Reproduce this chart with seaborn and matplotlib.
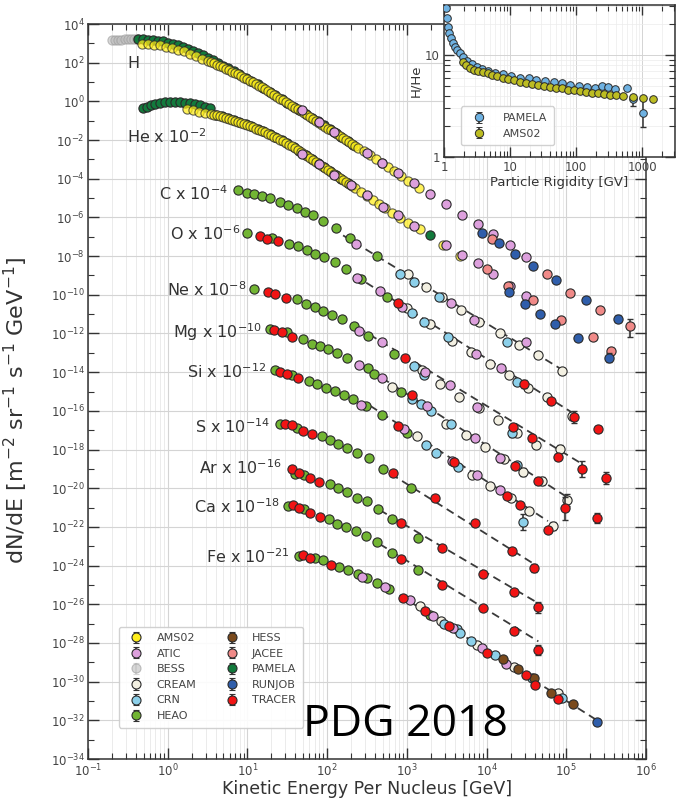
import numpy as np
import pandas as pd
import matplotlib
matplotlib.use("Agg")
import matplotlib.pyplot as plt
import seaborn as sns
from matplotlib.ticker import FixedLocator, LogLocator, NullFormatter, LogFormatterMathtext, FuncFormatter

# ------------------------------------------------------------------ data
experiments = ["AMS02", "ATIC", "BESS", "CREAM", "CRN", "HEAO",
               "HESS", "JACEE", "PAMELA", "RUNJOB", "TRACER"]
exp_codes = {"A": "AMS02", "T": "ATIC", "B": "BESS", "C": "CREAM", "N": "CRN",
             "H": "HEAO", "S": "HESS", "J": "JACEE", "P": "PAMELA",
             "R": "RUNJOB", "X": "TRACER"}
exp_colors = {"AMS02": "#FFEE1A", "ATIC": "#DDA0DD", "BESS": "#BDBDBD",
              "CREAM": "#F3F0E2", "CRN": "#8CD0EA", "HEAO": "#72B533",
              "HESS": "#7A4A1C", "JACEE": "#F08A88", "PAMELA": "#127A3C",
              "RUNJOB": "#2F5EAB", "TRACER": "#F21414"}

# values are log10(E/GeV) and log10(scaled flux)
H_bess_logE = [-0.70, -0.66, -0.62, -0.58, -0.54, -0.50, -0.46, -0.42, -0.38]
H_bess_logF = [3.17, 3.18, 3.19, 3.19, 3.20, 3.20, 3.20, 3.20, 3.20]

H_pamela_logE = [-0.37, -0.31, -0.25, -0.18, -0.12, -0.06, 0.00, 0.07, 0.13, 0.19,
                 0.25, 0.32, 0.38, 0.44, 0.51, 0.57, 0.63, 0.69, 0.76, 0.83,
                 0.90, 0.98, 1.05, 1.13, 1.20, 1.28, 1.35, 1.43, 1.50, 1.58,
                 1.65, 1.73, 1.81, 1.88, 1.96, 2.03, 2.11, 2.18, 2.26, 2.33]
H_pamela_logF = [3.22, 3.21, 3.19, 3.17, 3.14, 3.10, 3.04, 2.97, 2.89, 2.80,
                 2.71, 2.60, 2.50, 2.38, 2.26, 2.13, 1.99, 1.85, 1.72, 1.57,
                 1.42, 1.23, 1.06, 0.88, 0.71, 0.51, 0.32, 0.12, -0.07, -0.27,
                 -0.43, -0.64, -0.84, -1.03, -1.24, -1.43, -1.63, -1.83, -2.04, -2.24]

H_ams_logE = [-0.32, -0.25, -0.17, -0.10, -0.02, 0.05, 0.13, 0.20, 0.28, 0.36,
              0.43, 0.51, 0.545, 0.58, 0.62, 0.66, 0.695, 0.73, 0.77, 0.81,
              0.845, 0.88, 0.92, 0.96, 0.995, 1.03, 1.07, 1.11, 1.145, 1.18,
              1.22, 1.26, 1.295, 1.33, 1.37, 1.41, 1.445, 1.48, 1.52, 1.56,
              1.595, 1.63, 1.67, 1.71, 1.75, 1.79, 1.825, 1.86, 1.90, 1.94,
              1.975, 2.01, 2.05, 2.09, 2.125, 2.16, 2.20, 2.24, 2.275, 2.31,
              2.35, 2.39, 2.46, 2.54, 2.61, 2.69, 2.76, 2.84, 2.93, 3.02, 3.15]
H_ams_logF = [2.96, 2.95, 2.92, 2.89, 2.83, 2.76, 2.68, 2.58, 2.47, 2.34,
              2.21, 2.08, 2.03, 1.98, 1.90, 1.82, 1.76, 1.69, 1.62, 1.54,
              1.48, 1.41, 1.32, 1.23, 1.15, 1.07, 0.98, 0.89, 0.82, 0.74,
              0.64, 0.53, 0.44, 0.35, 0.25, 0.14, 0.05, -0.04, -0.15, -0.25,
              -0.33, -0.40, -0.51, -0.61, -0.72, -0.82, -0.91, -1.00, -1.11, -1.21,
              -1.31, -1.41, -1.50, -1.60, -1.70, -1.80, -1.91, -2.01, -2.12, -2.22,
              -2.31, -2.40, -2.58, -2.79, -2.99, -3.20, -3.41, -3.62, -3.88, -4.11, -4.50]

He_pamela_logE = [-0.31, -0.26, -0.21, -0.16, -0.10, -0.03, 0.03, 0.09, 0.15, 0.22,
                  0.28, 0.34, 0.41, 0.47, 0.53, 0.60, 0.68, 0.75, 0.83, 0.90,
                  0.98, 1.05, 1.13, 1.20, 1.28, 1.35, 1.43, 1.50, 1.58, 1.65,
                  1.73, 1.81, 1.88, 1.96, 2.03, 2.11, 2.18, 2.26]
He_pamela_logF = [-0.35, -0.27, -0.20, -0.13, -0.07, -0.03, -0.02, -0.02, -0.03, -0.06,
                  -0.09, -0.15, -0.20, -0.27, -0.35, -0.69, -0.78, -0.86, -0.96, -1.05,
                  -1.16, -1.29, -1.42, -1.55, -1.69, -1.85, -2.00, -2.17, -2.35, -2.56,
                  -2.77, -2.98, -3.18, -3.39, -3.60, -3.81, -4.01, -4.22]

He_ams_logE = [0.24, 0.32, 0.39, 0.47, 0.54, 0.58, 0.62, 0.655, 0.69, 0.73,
               0.77, 0.805, 0.84, 0.88, 0.92, 0.96, 1.00, 1.035, 1.07, 1.11,
               1.15, 1.185, 1.22, 1.26, 1.30, 1.335, 1.37, 1.41, 1.45, 1.485,
               1.52, 1.56, 1.60, 1.635, 1.67, 1.71, 1.75, 1.785, 1.82, 1.86,
               1.90, 1.935, 1.97, 2.01, 2.05, 2.085, 2.12, 2.16, 2.20, 2.24,
               2.28, 2.315, 2.35, 2.43, 2.50, 2.58, 2.65, 2.73, 2.81, 2.92,
               3.02, 3.17, 3.45, 3.67]
He_ams_logF = [-0.40, -0.47, -0.53, -0.60, -0.66, -0.695, -0.73, -0.77, -0.81, -0.855,
               -0.90, -0.95, -1.00, -1.05, -1.10, -1.155, -1.21, -1.275, -1.34, -1.405,
               -1.47, -1.535, -1.60, -1.675, -1.75, -1.83, -1.91, -1.985, -2.06, -2.15,
               -2.24, -2.33, -2.42, -2.525, -2.63, -2.735, -2.84, -2.945, -3.05, -3.15,
               -3.25, -3.355, -3.46, -3.565, -3.67, -3.775, -3.88, -3.98, -4.08, -4.185,
               -4.29, -4.395, -4.50, -4.70, -4.91, -5.12, -5.33, -5.53, -5.77, -6.03,
               -6.29, -6.62, -7.40, -7.97]

# (experiment code, logE, logF[, err_lo_dex, err_hi_dex])
H_pts = [("T", 1.69, -0.46), ("T", 1.90, -1.08), ("T", 2.09, -1.60), ("T", 2.50, -2.68),
         ("T", 2.69, -3.20), ("T", 2.89, -3.72), ("T", 3.09, -4.24), ("T", 3.29, -4.81),
         ("T", 3.49, -5.33), ("T", 3.69, -5.85), ("T", 3.89, -6.36), ("T", 4.08, -6.88),
         ("T", 4.30, -7.40), ("T", 4.50, -8.07),
         ("R", 3.94, -6.78), ("R", 4.16, -7.30), ("R", 4.36, -7.87), ("R", 4.58, -8.49),
         ("R", 4.87, -9.26), ("R", 5.25, -10.25), ("R", 5.65, -11.23, 0.2, 0.2),
         ("J", 4.07, -7.09), ("J", 4.76, -8.90), ("J", 5.05, -9.89), ("J", 5.42, -10.77),
         ("J", 5.80, -11.60, 0.6, 0.35)]

He_pts = [("T", 1.69, -2.74), ("T", 1.90, -3.25), ("T", 2.09, -3.82), ("T", 2.30, -4.34),
          ("T", 2.50, -4.86), ("T", 2.70, -5.48), ("T", 2.89, -5.90), ("T", 3.09, -6.42),
          ("T", 3.49, -7.40), ("T", 3.69, -7.92), ("T", 3.89, -8.38), ("T", 4.08, -8.90),
          ("T", 4.30, -9.52), ("T", 4.50, -10.04),
          ("P", 3.29, -6.93),
          ("J", 4.01, -8.69), ("J", 4.27, -9.52), ("J", 4.58, -10.25), ("J", 4.93, -11.29),
          ("J", 5.34, -12.17), ("J", 5.56, -12.89, 0.15, 0.15),
          ("R", 4.28, -9.83), ("R", 4.48, -10.46), ("R", 4.67, -10.97), ("R", 4.86, -11.49),
          ("R", 5.15, -12.22), ("R", 5.54, -13.25, 0.25, 0.25)]

C_pts = [("H", 0.88, -4.60), ("H", 1.00, -4.76), ("H", 1.08, -4.81), ("H", 1.18, -4.91),
         ("H", 1.28, -5.02), ("H", 1.41, -5.22), ("H", 1.51, -5.38), ("H", 1.62, -5.53),
         ("H", 1.72, -5.74), ("H", 1.82, -5.90), ("H", 1.95, -6.21), ("H", 2.11, -6.57),
         ("H", 2.29, -7.04), ("T", 2.36, -7.35), ("H", 2.63, -7.97),
         ("N", 2.91, -8.90), ("C", 3.02, -8.90), ("N", 3.09, -9.32, 0.15, 0.15),
         ("C", 3.24, -9.58), ("N", 3.40, -10.09), ("C", 3.44, -10.09), ("T", 3.56, -10.40),
         ("C", 3.68, -10.77), ("T", 3.84, -11.28), ("C", 3.91, -11.39), ("C", 4.17, -11.96),
         ("N", 4.26, -12.42), ("C", 4.41, -12.58), ("T", 4.50, -12.42), ("C", 4.65, -13.10),
         ("C", 4.95, -13.93, 0.1, 0.1)]

O_pts = [("H", 1.00, -6.78), ("X", 1.16, -6.98), ("X", 1.25, -7.09), ("H", 1.31, -7.04),
         ("X", 1.38, -7.24), ("H", 1.52, -7.35), ("H", 1.63, -7.50), ("H", 1.75, -7.71),
         ("H", 1.85, -7.87), ("H", 1.96, -8.07), ("H", 2.10, -8.33), ("H", 2.24, -8.69),
         ("T", 2.38, -9.11), ("H", 2.43, -9.16), ("T", 2.66, -9.78), ("H", 2.75, -10.09),
         ("X", 2.89, -10.40), ("T", 2.94, -10.61), ("C", 3.00, -10.66),
         ("N", 3.07, -10.92, 0.15, 0.15), ("N", 3.22, -11.39), ("C", 3.29, -11.49),
         ("N", 3.52, -12.17), ("C", 3.57, -12.37), ("C", 3.81, -12.94), ("T", 3.87, -13.05),
         ("C", 4.04, -13.57), ("T", 4.18, -13.77), ("C", 4.28, -14.13), ("N", 4.38, -14.50),
         ("X", 4.47, -14.60, 0.2, 0.2), ("C", 4.52, -14.81), ("C", 4.76, -15.27),
         ("X", 4.81, -15.48), ("C", 5.07, -16.26, 0.2, 0.2), ("X", 5.10, -16.31, 0.3, 0.3),
         ("X", 5.40, -16.93, 0.15, 0.15)]

Ne_pts = [("H", 1.08, -9.68), ("X", 1.26, -9.83), ("X", 1.35, -9.94), ("X", 1.48, -10.15),
          ("H", 1.62, -10.20), ("H", 1.74, -10.46), ("H", 1.85, -10.61), ("H", 1.95, -10.82),
          ("H", 2.06, -11.03), ("H", 2.19, -11.23), ("H", 2.34, -11.60), ("T", 2.40, -11.86),
          ("H", 2.51, -12.11), ("T", 2.69, -12.42), ("H", 2.84, -13.05), ("X", 2.98, -13.25),
          ("N", 3.09, -13.67), ("C", 3.19, -13.88), ("T", 3.23, -13.98), ("N", 3.22, -14.13),
          ("C", 3.42, -14.60), ("T", 3.54, -14.65), ("C", 3.66, -15.27), ("T", 3.88, -15.79),
          ("C", 3.91, -15.84), ("C", 4.14, -16.47), ("X", 4.33, -16.83, 0.1, 0.1),
          ("N", 4.32, -17.14, 0.2, 0.2), ("C", 4.38, -17.14), ("X", 4.57, -17.40),
          ("C", 4.62, -17.76, 0.15, 0.15), ("C", 4.92, -17.97, 0.2, 0.2),
          ("X", 4.90, -18.38, 0.15, 0.15), ("X", 5.20, -19.00, 0.4, 0.4),
          ("X", 5.50, -19.47, 0.3, 0.3)]

Mg_pts = [("H", 1.28, -11.75), ("X", 1.33, -11.80), ("X", 1.43, -11.91), ("H", 1.50, -11.91),
          ("X", 1.56, -12.17), ("H", 1.70, -12.27), ("H", 1.81, -12.53), ("H", 1.91, -12.63),
          ("H", 2.01, -12.79), ("H", 2.12, -13.00), ("H", 2.25, -13.25), ("T", 2.40, -13.62),
          ("H", 2.51, -13.77), ("H", 2.59, -14.08), ("T", 2.69, -14.29), ("C", 2.81, -14.76),
          ("H", 2.93, -15.02), ("X", 3.07, -15.17), ("N", 3.07, -15.38), ("N", 3.18, -15.64),
          ("T", 3.25, -15.74), ("N", 3.30, -16.00), ("C", 3.49, -16.67), ("N", 3.55, -16.67),
          ("C", 3.74, -17.24), ("T", 3.86, -17.40), ("C", 3.98, -17.86),
          ("T", 4.17, -18.43, 0.2, 0.2), ("C", 4.22, -18.49), ("X", 4.36, -18.85),
          ("N", 4.38, -18.80), ("C", 4.46, -19.16, 0.2, 0.2), ("X", 4.65, -19.63),
          ("C", 4.70, -19.63, 0.2, 0.2), ("C", 5.01, -20.61, 0.3, 0.3),
          ("X", 4.98, -21.03, 0.6, 0.6), ("X", 5.39, -21.54, 0.25, 0.25)]

Si_pts = [("H", 1.35, -13.88), ("X", 1.41, -13.98), ("X", 1.50, -14.08), ("H", 1.56, -14.14),
          ("X", 1.63, -14.29), ("H", 1.77, -14.45), ("H", 1.87, -14.60), ("H", 1.99, -14.81),
          ("H", 2.10, -14.96), ("H", 2.21, -15.17), ("H", 2.33, -15.38), ("T", 2.43, -15.69),
          ("H", 2.49, -15.74), ("H", 2.69, -16.21), ("X", 2.89, -16.78), ("T", 2.96, -16.93),
          ("H", 3.00, -17.14), ("C", 3.13, -17.30), ("N", 3.24, -17.76), ("N", 3.37, -18.18),
          ("T", 3.57, -18.59), ("X", 3.59, -18.64), ("N", 3.64, -18.90), ("C", 3.82, -19.32),
          ("T", 3.88, -19.32), ("C", 4.04, -19.89), ("T", 4.17, -20.09), ("X", 4.26, -20.40),
          ("C", 4.31, -20.51), ("X", 4.42, -20.87), ("C", 4.53, -21.18, 0.15, 0.15),
          ("N", 4.46, -21.75, 0.4, 0.4), ("X", 4.77, -22.17), ("C", 4.83, -21.96, 0.2, 0.2)]

S_pts = [("H", 1.41, -16.67), ("X", 1.47, -16.67), ("X", 1.56, -16.73), ("H", 1.62, -16.88),
         ("X", 1.70, -17.04), ("X", 1.81, -17.19), ("H", 1.94, -17.30), ("H", 2.04, -17.50),
         ("H", 2.14, -17.71), ("H", 2.25, -17.92), ("H", 2.38, -18.18), ("H", 2.53, -18.44),
         ("H", 2.70, -19.00), ("X", 2.83, -19.21), ("H", 3.05, -19.99), ("X", 3.35, -20.51),
         ("X", 3.86, -21.80), ("X", 4.32, -23.25, 0.15, 0.15), ("X", 4.60, -24.14, 0.2, 0.2)]

Ar_pts = [("X", 1.56, -19.00), ("H", 1.60, -19.26), ("X", 1.65, -19.21), ("H", 1.71, -19.32),
          ("X", 1.79, -19.47), ("X", 1.90, -19.68), ("H", 2.04, -19.78), ("H", 2.14, -19.99),
          ("H", 2.25, -20.20), ("H", 2.38, -20.51), ("H", 2.50, -20.66), ("H", 2.64, -21.08),
          ("H", 2.81, -21.60), ("X", 2.93, -21.80), ("H", 3.14, -22.58), ("X", 3.44, -23.10),
          ("X", 3.96, -24.45), ("X", 4.35, -25.38, 0.15, 0.15), ("X", 4.65, -26.16, 0.3, 0.3)]

Ca_pts = [("H", 1.51, -20.92), ("X", 1.57, -20.87), ("X", 1.65, -21.03), ("H", 1.71, -21.08),
          ("X", 1.79, -21.28), ("X", 1.91, -21.49), ("H", 2.02, -21.60), ("H", 2.12, -21.86),
          ("H", 2.24, -22.01), ("H", 2.36, -22.22), ("H", 2.49, -22.48), ("H", 2.63, -22.79),
          ("H", 2.81, -23.36), ("X", 2.93, -23.67), ("H", 3.14, -24.24), ("X", 3.44, -25.02),
          ("X", 3.96, -26.21), ("X", 4.35, -27.40, 0.15, 0.15), ("X", 4.65, -28.38, 0.25, 0.25)]

Fe_pts = [("H", 1.65, -23.51), ("X", 1.70, -23.46), ("X", 1.79, -23.62), ("H", 1.85, -23.62),
          ("H", 1.95, -23.72), ("X", 2.05, -23.98), ("H", 2.15, -24.08), ("H", 2.26, -24.24),
          ("H", 2.39, -24.45), ("T", 2.44, -24.60), ("H", 2.50, -24.65), ("H", 2.63, -24.91),
          ("T", 2.73, -25.12), ("H", 2.78, -25.22), ("X", 2.95, -25.69), ("T", 3.04, -25.79),
          ("C", 3.17, -26.10), ("X", 3.23, -26.36), ("H", 3.29, -26.57), ("T", 3.33, -26.62),
          ("C", 3.43, -26.88), ("N", 3.47, -27.04), ("X", 3.53, -27.14), ("T", 3.58, -27.24),
          ("N", 3.63, -27.30), ("N", 3.67, -27.50), ("N", 3.81, -27.92), ("C", 3.88, -28.12),
          ("T", 3.94, -28.28), ("X", 4.01, -28.54), ("N", 4.11, -28.64), ("S", 4.21, -28.85),
          ("T", 4.24, -29.11), ("C", 4.35, -29.26), ("S", 4.40, -29.37), ("X", 4.50, -29.68),
          ("N", 4.57, -29.83), ("S", 4.60, -29.83, 0.1, 0.1), ("X", 4.61, -30.15),
          ("S", 4.81, -30.61), ("C", 4.90, -30.61, 0.1, 0.1), ("N", 4.95, -30.87),
          ("X", 4.90, -30.92, 0.1, 0.1), ("S", 5.09, -31.18), ("R", 5.39, -32.11, 0.15, 0.15)]

# power-law fits (dashed): [(logE_start, logF_start), (logE_end, logF_end)]
fit_C = [(2.20, -6.93), (4.95, -13.88)]
fit_O = [(2.35, -9.01), (5.10, -16.16)]
fit_Ne = [(2.39, -11.70), (5.20, -18.75)]
fit_Mg = [(2.41, -13.56), (5.01, -20.46)]
fit_Si = [(2.54, -15.74), (4.77, -21.70)]
fit_S = [(2.66, -18.90), (4.60, -23.93)]
fit_Ar = [(2.66, -21.13), (4.65, -25.95)]
fit_Ca = [(2.66, -22.89), (4.65, -27.92)]
fit_Fe = [(2.91, -25.53), (5.39, -32.01)]

# inset: H/He ratio vs rigidity
pam_R = [1.07, 1.10, 1.14, 1.19, 1.26, 1.35, 1.47, 1.58, 1.74, 1.95, 2.24, 2.63, 3.16, 3.72,
         4.68, 5.89, 7.94, 10.5, 14.1, 19.1, 25.1, 33.9, 45.7, 60.3, 81.3, 110, 145, 195,
         245, 309, 389, 589, 741, 1047]
pam_ratio = [28.7, 22.9, 18.9, 16.3, 14.6, 13.2, 12.1, 11.2, 10.4, 9.5, 8.7, 8.2, 7.7, 7.3,
             7.0, 6.7, 6.5, 6.2, 6.0, 5.9, 5.7, 5.6, 5.4, 5.3, 5.1, 5.0, 4.9, 4.8,
             5.0, 4.9, 4.6, 4.7, 3.7, 2.7]
pam_err_lo = [0] * 32 + [0.5, 0.75]
pam_err_hi = [0] * 32 + [0.4, 0.9]
ams_R = [1.91, 2.14, 2.45, 2.82, 3.31, 3.89, 4.57, 5.37, 6.46, 7.76, 9.33, 11.5, 14.1, 17.4,
         21.4, 26.3, 33.1, 40.7, 50.1, 61.7, 75.9, 93.3, 115, 141, 174, 214, 263, 331,
         407, 513, 724, 1023, 1479]
ams_ratio = [8.6, 8.0, 7.5, 7.2, 7.0, 6.8, 6.6, 6.4, 6.2, 6.0, 5.8, 5.65, 5.5, 5.35, 5.25,
             5.1, 5.0, 4.9, 4.8, 4.7, 4.57, 4.5, 4.44, 4.34, 4.27, 4.2, 4.15, 4.08, 4.02,
             3.96, 3.85, 3.76, 3.7]

# ------------------------------------------------------------------ assemble
rows = []


def add(element, code, le, lf, lo=0.0, hi=0.0):
    rows.append(dict(element=element, exp=exp_codes[code], E=10.0 ** le, F=10.0 ** lf,
                     lo=lo, hi=hi))


for le, lf in zip(H_bess_logE, H_bess_logF):
    add("H", "B", le, lf)
for le, lf in zip(H_ams_logE, H_ams_logF):
    add("H", "A", le, lf)
for le, lf in zip(H_pamela_logE, H_pamela_logF):
    add("H", "P", le, lf)
for le, lf in zip(He_ams_logE, He_ams_logF):
    add("He", "A", le, lf)
for le, lf in zip(He_pamela_logE, He_pamela_logF):
    add("He", "P", le, lf)
for el, pts in [("H", H_pts), ("He", He_pts), ("C", C_pts), ("O", O_pts), ("Ne", Ne_pts),
                ("Mg", Mg_pts), ("Si", Si_pts), ("S", S_pts), ("Ar", Ar_pts),
                ("Ca", Ca_pts), ("Fe", Fe_pts)]:
    for p in pts:
        add(el, *p)
df = pd.DataFrame(rows)

# ------------------------------------------------------------------ style
sns.set_theme(style="ticks")
plt.rcParams["font.family"] = ["DejaVu Sans"]
plt.rcParams["axes.edgecolor"] = "#333333"
plt.rcParams["axes.linewidth"] = 1.1
TXT = "#333333"

fig = plt.figure(figsize=(6.79, 8.01), dpi=100)
ax = fig.add_axes([88 / 679, 1 - 759 / 801, 558 / 679, 735 / 801])
ax.set_xscale("log")
ax.set_yscale("log")
ax.set_xlim(1e-1, 1e6)
ax.set_ylim(1e-34, 1e4)

ax.grid(which="major", color="#d4d4d4", lw=0.8, zorder=0)
ax.grid(which="minor", axis="x", color="#e8e8e8", lw=0.6, zorder=0)
ax.set_axisbelow(True)

edge = "#2a2a2a"
draw_order = ["BESS", "PAMELA", "AMS02", "HEAO", "CREAM", "CRN", "ATIC", "HESS",
              "JACEE", "RUNJOB", "TRACER"]
for i, e in enumerate(draw_order):
    sub = df[df.exp == e]
    if sub.empty:
        continue
    errs = sub[(sub.lo > 0) | (sub.hi > 0)]
    if not errs.empty:
        ax.errorbar(errs.E, errs.F,
                    yerr=[errs.F - errs.F * 10 ** (-errs.lo), errs.F * 10 ** errs.hi - errs.F],
                    fmt="none", ecolor="#333333", elinewidth=1.2, capsize=2.5, capthick=1.0,
                    zorder=3 + i * 0.1)
    alpha = {"BESS": 0.6, "AMS02": 0.72}.get(e, 1.0)
    sns.scatterplot(data=sub, x="E", y="F", ax=ax, color=exp_colors[e], s=44,
                    edgecolor=("#9a9a9a" if e == "BESS" else edge),
                    linewidth=0.8, alpha=alpha,
                    zorder=3.05 + i * 0.1, legend=False)

for fit in [fit_C, fit_O, fit_Ne, fit_Mg, fit_Si, fit_S, fit_Ar, fit_Ca, fit_Fe]:
    xs = [10 ** fit[0][0], 10 ** fit[1][0]]
    ys = [10 ** fit[0][1], 10 ** fit[1][1]]
    ax.plot(xs, ys, ls=(0, (4.5, 2.8)), color="#3a3a3a", lw=1.3, zorder=2.5)

# element labels
labels = [("H", 10 ** -0.511, 10 ** 2.03, "left"),
          ("He x 10$^{-2}$", 10 ** -0.511, 10 ** -1.75, "left"),
          ("C x 10$^{-4}$", 10 ** 0.757, 10 ** -4.70, "right"),
          ("O x 10$^{-6}$", 10 ** 0.907, 10 ** -6.78, "right"),
          ("Ne x 10$^{-8}$", 10 ** 0.995, 10 ** -9.68, "right"),
          ("Mg x 10$^{-10}$", 10 ** 1.183, 10 ** -11.80, "right"),
          ("Si x 10$^{-12}$", 10 ** 1.233, 10 ** -13.88, "right"),
          ("S x 10$^{-14}$", 10 ** 1.284, 10 ** -16.73, "right"),
          ("Ar x 10$^{-16}$", 10 ** 1.422, 10 ** -18.85, "right"),
          ("Ca x 10$^{-18}$", 10 ** 1.409, 10 ** -20.87, "right"),
          ("Fe x 10$^{-21}$", 10 ** 1.535, 10 ** -23.46, "right")]
for t, x, y, ha in labels:
    ax.text(x, y, t, ha=ha, va="center_baseline", fontsize=11.5, color=TXT, zorder=5)

# ticks
ax.yaxis.set_major_locator(FixedLocator([10.0 ** k for k in range(-34, 5, 2)]))
ax.yaxis.set_minor_locator(FixedLocator([10.0 ** k for k in range(-33, 4, 2)]))
ax.yaxis.set_major_formatter(LogFormatterMathtext())
ax.yaxis.set_minor_formatter(NullFormatter())
ax.xaxis.set_major_locator(LogLocator(base=10, numticks=20))
ax.xaxis.set_minor_locator(LogLocator(base=10, subs=np.arange(2, 10), numticks=200))
ax.xaxis.set_minor_formatter(NullFormatter())
ax.tick_params(which="major", direction="in", length=8, width=1.0, color="#333333",
               labelsize=8.5, labelcolor="#444444", top=True, right=True, pad=2.5)
ax.tick_params(which="minor", direction="in", length=4.5, width=0.8, color="#333333",
               top=True, right=True)
ax.set_xlabel("Kinetic Energy Per Nucleus [GeV]", fontsize=12.5, color=TXT, labelpad=0.5)
ax.set_ylabel("dN/dE [m$^{-2}$ sr$^{-1}$ s$^{-1}$ GeV$^{-1}$]", fontsize=16, color=TXT)
ax.yaxis.set_label_coords(-0.104, 0.474)

# legend with errorbar-style handles
handles = []
for e in experiments:
    h = ax.errorbar([np.nan], [np.nan], yerr=[1.0], fmt="o", ms=6.5,
                    mfc=exp_colors[e], mec=("#9a9a9a" if e == "BESS" else edge), mew=0.8,
                    ecolor=("#bbbbbb" if e == "BESS" else "#333333"), elinewidth=1.2,
                    capsize=2.0, alpha=(0.6 if e == "BESS" else 1.0), label=e)
    handles.append(h)
leg = ax.legend(handles=handles, labels=experiments, ncol=2, loc="lower left",
                bbox_to_anchor=(0.045, 0.035), fontsize=8, frameon=True,
                edgecolor="#cccccc", facecolor="white", framealpha=0.9,
                handletextpad=0.8, columnspacing=2.2, borderpad=0.6)
for t in leg.get_texts():
    t.set_color("#444444")

fig.text(303 / 679, 1 - 736 / 801, "PDG 2018", ha="left", va="baseline",
         fontsize=32, family=["Open Sans", "DejaVu Sans"], color="black")

# ------------------------------------------------------------------ inset
axin = fig.add_axes([444 / 679, 1 - 157 / 801, 231 / 679, 152 / 801])
axin.set_facecolor("white")
axin.set_xscale("log")
axin.set_yscale("log")
axin.set_xlim(1, 3160)
axin.set_ylim(1, 31)
axin.grid(which="major", color="#d4d4d4", lw=0.7)
axin.grid(which="minor", color="#ececec", lw=0.5)
axin.set_axisbelow(True)

inset_df = pd.concat([
    pd.DataFrame(dict(R=pam_R, ratio=pam_ratio, exp="PAMELA")),
    pd.DataFrame(dict(R=ams_R, ratio=ams_ratio, exp="AMS02")),
])
inset_colors = {"PAMELA": "#6FB2E2", "AMS02": "#BDBD22"}
axin.errorbar(pam_R, pam_ratio, yerr=[pam_err_lo, pam_err_hi], fmt="none",
              ecolor="#333333", elinewidth=1.1, capsize=2.0, zorder=2)
for e in ["PAMELA", "AMS02"]:
    sns.scatterplot(data=inset_df[inset_df.exp == e], x="R", y="ratio", ax=axin,
                    color=inset_colors[e], s=30, edgecolor=edge, linewidth=0.7,
                    legend=False, zorder=3)
ih = []
for e in ["PAMELA", "AMS02"]:
    ih.append(axin.errorbar([np.nan], [np.nan], yerr=[1.0], fmt="o", ms=6,
                            mfc=inset_colors[e], mec=edge, mew=0.7, ecolor="#333333",
                            elinewidth=1.2, capsize=2.0, label=e))
ileg = axin.legend(handles=ih, labels=["PAMELA", "AMS02"], loc="lower left",
                   bbox_to_anchor=(0.05, 0.04), fontsize=8, edgecolor="#cccccc",
                   framealpha=0.9, handletextpad=1.2, borderpad=0.6)
for t in ileg.get_texts():
    t.set_color("#444444")

axin.xaxis.set_major_locator(LogLocator(base=10, numticks=10))
axin.xaxis.set_minor_locator(LogLocator(base=10, subs=np.arange(2, 10), numticks=100))
axin.xaxis.set_major_formatter(FuncFormatter(lambda v, p: f"{v:g}"))
axin.xaxis.set_minor_formatter(NullFormatter())
axin.yaxis.set_major_locator(FixedLocator([1, 10]))
axin.yaxis.set_minor_locator(FixedLocator([2, 3, 4, 5, 6, 7, 8, 9, 20, 30]))
axin.yaxis.set_major_formatter(FuncFormatter(lambda v, p: f"{v:g}"))
axin.yaxis.set_minor_formatter(NullFormatter())
axin.tick_params(which="major", direction="in", length=7, width=1.0, color="#333333",
                 labelsize=8.5, labelcolor="#444444", top=True, right=True, pad=3)
axin.tick_params(which="minor", direction="in", length=4, width=0.8, color="#333333",
                 top=True, right=True)
axin.set_xlabel("Particle Rigidity [GV]", fontsize=9.5, color=TXT, labelpad=1)
axin.set_ylabel("H/He", fontsize=9.5, color=TXT, labelpad=2)

fig.savefig("out.png", dpi=100)
